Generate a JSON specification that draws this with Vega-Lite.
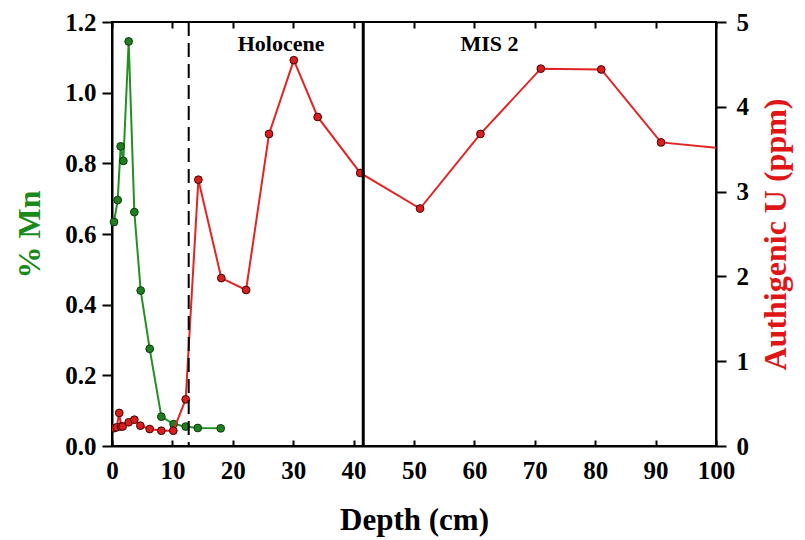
{
  "$schema": "https://vega.github.io/schema/vega-lite/v6.json",
  "width": 604,
  "height": 424,
  "autosize": {"type": "none"},
  "padding": {"left": 112, "top": 22, "right": 89, "bottom": 94},
  "background": "white",
  "config": {
    "view": {"stroke": "black", "strokeWidth": 2},
    "font": "Liberation Serif",
    "axis": {
      "labelFont": "Liberation Serif",
      "labelFontWeight": "bold",
      "labelFontSize": 25,
      "labelColor": "black",
      "labelFlush": false,
      "titleFont": "Liberation Serif",
      "titleFontWeight": "bold",
      "titleFontSize": 31,
      "domainColor": "black",
      "domainWidth": 2,
      "tickColor": "black",
      "tickWidth": 2,
      "grid": false
    }
  },
  "datasets": {
    "mn": [
      {"depth": 0.33, "mn": 0.634},
      {"depth": 0.94, "mn": 0.696},
      {"depth": 1.43, "mn": 0.848},
      {"depth": 1.88, "mn": 0.807},
      {"depth": 2.76, "mn": 1.145},
      {"depth": 3.7, "mn": 0.662},
      {"depth": 4.75, "mn": 0.44},
      {"depth": 6.24, "mn": 0.275},
      {"depth": 8.17, "mn": 0.083},
      {"depth": 10.2, "mn": 0.062},
      {"depth": 12.2, "mn": 0.055},
      {"depth": 14.2, "mn": 0.051},
      {"depth": 18.0, "mn": 0.05}
    ],
    "u": [
      {"depth": 0.33, "u": 0.21},
      {"depth": 0.77, "u": 0.22},
      {"depth": 1.2, "u": 0.39},
      {"depth": 1.5, "u": 0.23},
      {"depth": 1.77, "u": 0.23},
      {"depth": 2.76, "u": 0.28},
      {"depth": 3.7, "u": 0.31},
      {"depth": 4.7, "u": 0.24},
      {"depth": 6.24, "u": 0.2},
      {"depth": 8.17, "u": 0.18},
      {"depth": 10.15, "u": 0.18},
      {"depth": 12.2, "u": 0.55},
      {"depth": 14.3, "u": 3.14},
      {"depth": 18.1, "u": 1.98},
      {"depth": 22.2, "u": 1.84},
      {"depth": 26.0, "u": 3.68},
      {"depth": 30.1, "u": 4.55},
      {"depth": 34.05, "u": 3.88},
      {"depth": 41.1, "u": 3.22},
      {"depth": 51.0, "u": 2.8},
      {"depth": 61.0, "u": 3.68},
      {"depth": 71.0, "u": 4.45},
      {"depth": 81.0, "u": 4.44},
      {"depth": 90.9, "u": 3.58},
      {"depth": 101, "u": 3.51}
    ],
    "zones": [
      {"depth": 28, "u": 4.74, "label": "Holocene"},
      {"depth": 62.5, "u": 4.74, "label": "MIS 2"}
    ]
  },
  "layer": [
    {
      "data": {"name": "mn"},
      "encoding": {
        "x": {
          "field": "depth", "type": "quantitative",
          "scale": {"domain": [0, 100], "nice": false},
          "axis": {"orient": "bottom", "values": [0,10,20,30,40,50,60,70,80,90,100], "tickSize": -6, "labelPadding": 18, "labelFont": "Liberation Serif", "labelFontWeight": "bold", "labelFlush": false, "title": "Depth (cm)", "titlePadding": 22}
        },
        "y": {
          "field": "mn", "type": "quantitative",
          "scale": {"domain": [0, 1.2], "nice": false},
          "axis": {"orient": "left", "values": [0,0.2,0.4,0.6,0.8,1.0,1.2], "format": ".1f", "tickSize": 10, "labelPadding": 6, "labelFont": "Liberation Serif", "labelFontWeight": "bold", "labelFlush": false, "title": "% Mn", "titleColor": "#1a8a1a", "titleFontSize": 32, "titlePadding": 18}
        }
      },
      "layer": [
        {"mark": {"type": "line", "color": "#239023", "strokeWidth": 2}},
        {"mark": {"type": "point", "filled": true, "fill": "#1f7f1f", "stroke": "#0b3b0b", "strokeWidth": 1, "size": 60, "opacity": 1}}
      ]
    },
    {
      "data": {"name": "u"},
      "encoding": {
        "x": {"field": "depth", "type": "quantitative", "scale": {"domain": [0, 100], "nice": false}, "axis": null},
        "y": {
          "field": "u", "type": "quantitative",
          "scale": {"domain": [0, 5], "nice": false},
          "axis": {"orient": "right", "values": [0,1,2,3,4,5], "tickSize": 10, "labelPadding": 10, "labelFont": "Liberation Serif", "labelFontWeight": "bold", "labelFlush": false, "title": "Authigenic U (ppm)", "titleAngle": 270, "titleBaseline": "top", "titleColor": "#e01515", "titleFontSize": 32, "titlePadding": 12}
        }
      },
      "layer": [
        {"mark": {"type": "line", "color": "#e22424", "strokeWidth": 2, "clip": true}},
        {"mark": {"type": "point", "filled": true, "fill": "#d81e1e", "stroke": "#4a0000", "strokeWidth": 1, "size": 60, "opacity": 1, "clip": true}},
        {
          "data": {"name": "zones"},
          "mark": {"type": "text", "font": "Liberation Serif", "fontWeight": "bold", "fontSize": 22, "color": "black", "baseline": "middle", "align": "center"},
          "encoding": {"text": {"field": "label"}}
        }
      ]
    },
    {
      "data": {"values": [{"depth": 12.7, "kind": "dashed"}]},
      "mark": {"type": "rule", "color": "black", "strokeWidth": 2, "strokeDash": [14, 7]},
      "encoding": {
        "x": {"field": "depth", "type": "quantitative", "scale": {"domain": [0, 100], "nice": false},
          "axis": {"orient": "top", "values": [0,10,20,30,40,50,60,70,80,90,100], "labels": false, "domain": false, "tickSize": -6, "title": null}}
      }
    },
    {
      "data": {"values": [{"depth": 41.6, "kind": "solid"}]},
      "mark": {"type": "rule", "color": "black", "strokeWidth": 3},
      "encoding": {
        "x": {"field": "depth", "type": "quantitative", "scale": {"domain": [0, 100], "nice": false}, "axis": null}
      }
    }
  ],
  "resolve": {"scale": {"y": "independent"}, "axis": {"y": "independent", "x": "independent"}}
}
